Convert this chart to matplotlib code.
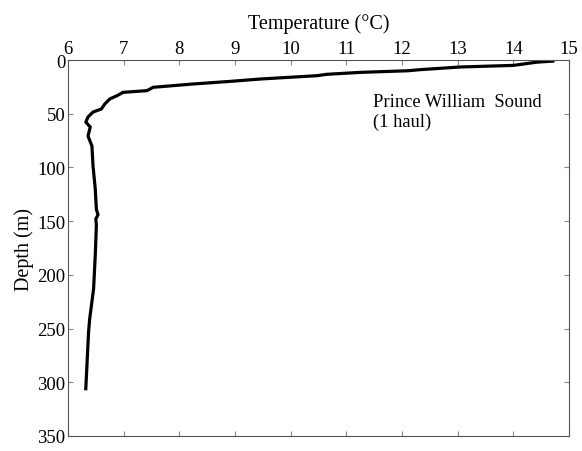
import matplotlib
matplotlib.use('Agg')
import matplotlib.pyplot as plt

plt.rcParams['font.family'] = ['Liberation Serif', 'DejaVu Serif']

# CTD cast, Prince William Sound
temperatura = [14.71, 14.42, 14.0, 13.04, 12.32, 12.1, 11.25, 10.65, 10.47, 9.45, 8.91,
               8.25, 7.53, 7.42, 6.99, 6.88, 6.75, 6.66, 6.6, 6.45, 6.36, 6.32, 6.4,
               6.36, 6.43, 6.45, 6.49, 6.51, 6.54, 6.5, 6.51, 6.49, 6.46, 6.39,
               6.37, 6.32]
profundidade = [1, 2, 5, 6.5, 9, 10, 11.5, 13.3, 14.6, 17.7, 19.9,
                22.3, 25.4, 28.5, 30.1, 33.2, 36.3, 41, 45.6, 48.4, 53, 57.8, 62.4,
                70.8, 80, 98.7, 120, 139, 144, 148, 154, 182, 213, 241,
                253, 306]

fig = plt.figure(figsize=(5.82, 4.52), dpi=100)
ax = fig.add_axes([0.1168, 0.0332, 0.8609, 0.8318])

ax.plot(temperatura, profundidade, color='black', linewidth=2.3)

ax.set_xlim(6, 15)
ax.set_ylim(350, 0)
ax.set_xticks(range(6, 16))
ax.set_yticks(range(0, 351, 50))
ax.xaxis.set_label_position('top')
ax.xaxis.tick_top()
ax.set_xlabel('Temperature (°C)', fontsize=14.5, labelpad=9)
ax.set_ylabel('Depth (m)', fontsize=14.5, labelpad=2)
ax.tick_params(direction='in', length=3.5, width=0.8, color='#888888',
               labelsize=13.5, top=True, bottom=True, left=True, right=True, pad=2)

for s in ax.spines.values():
    s.set_color('#555555')
    s.set_linewidth(0.8)

ax.text(11.48, 48, 'Prince William  Sound\n(1 haul)', fontsize=13.3,
        va='center', ha='left', linespacing=1.2)

fig.savefig('out.png', dpi=100)
